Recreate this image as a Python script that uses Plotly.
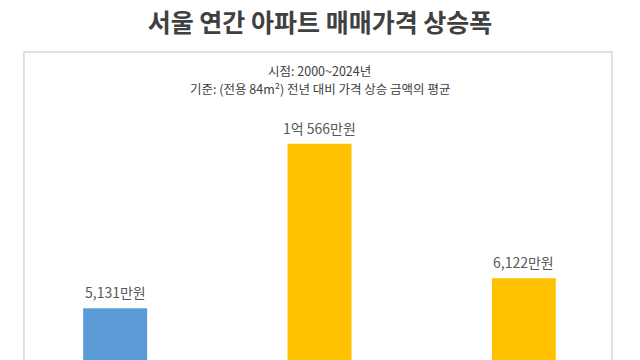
import plotly.graph_objects as go

categories = ["구간1", "구간2", "구간3"]
values = [5131, 10566, 6122]
colors = ["#5B9BD5", "#FFC000", "#FFC000"]
title_text = "서울 연간 아파트 매매가격 상승폭"
subtitle_lines = ["시점: 2000~2024년", "기준: (전용 84m²) 전년 대비 가격 상승 금액의 평균"]


def fmt(v):
    if v >= 10000:
        return f"{v // 10000}억 {v % 10000}만원"
    return f"{v:,}만원"


FONT = "Noto Sans CJK KR, Noto Sans, sans-serif"

fig = go.Figure()
fig.add_trace(go.Bar(
    x=categories, y=values, marker=dict(color=colors, line=dict(width=0)),
    width=0.313, hoverinfo="skip",
))

annotations = []
for c, v in zip(categories, values):
    annotations.append(dict(
        x=c, y=v, xref="x", yref="y", text=fmt(v), showarrow=False,
        yanchor="bottom", yshift=4, font=dict(family=FONT, size=14, color="#595959"),
    ))
for i, line in enumerate(subtitle_lines):
    annotations.append(dict(
        x=0.5, y=1, xref="paper", yref="paper", text=line,
        showarrow=False, yanchor="middle", yshift=-18 - 18 * i, align="center",
        font=dict(family=FONT, size=12.5, color="#404040"),
    ))

fig.update_layout(
    width=640, height=360,
    margin=dict(l=13, r=14, t=52, b=0, pad=0),
    paper_bgcolor="white", plot_bgcolor="white",
    showlegend=False,
    title=dict(text=f"<b>{title_text}</b>", x=0.5, xanchor="center",
               y=1 - 23 / 360, yanchor="middle", yref="container",
               font=dict(family=FONT, size=25, color="#404040")),
    xaxis=dict(showticklabels=False, showgrid=False, zeroline=False, showline=False,
               range=[-0.5, 2.5]),
    yaxis=dict(range=[3424, 13594], showticklabels=False, showgrid=False,
               zeroline=False, showline=False),
    annotations=annotations,
    shapes=[dict(type="rect", xref="paper", yref="paper", x0=0.0178, x1=0.977,
                 y0=-0.2, y1=1, line=dict(color="#D6D6D6", width=1.5),
                 fillcolor="rgba(0,0,0,0)", layer="below")],
)

fig.write_html("out.html", config={"displayModeBar": False},
               post_script="document.body.style.margin='0';")
